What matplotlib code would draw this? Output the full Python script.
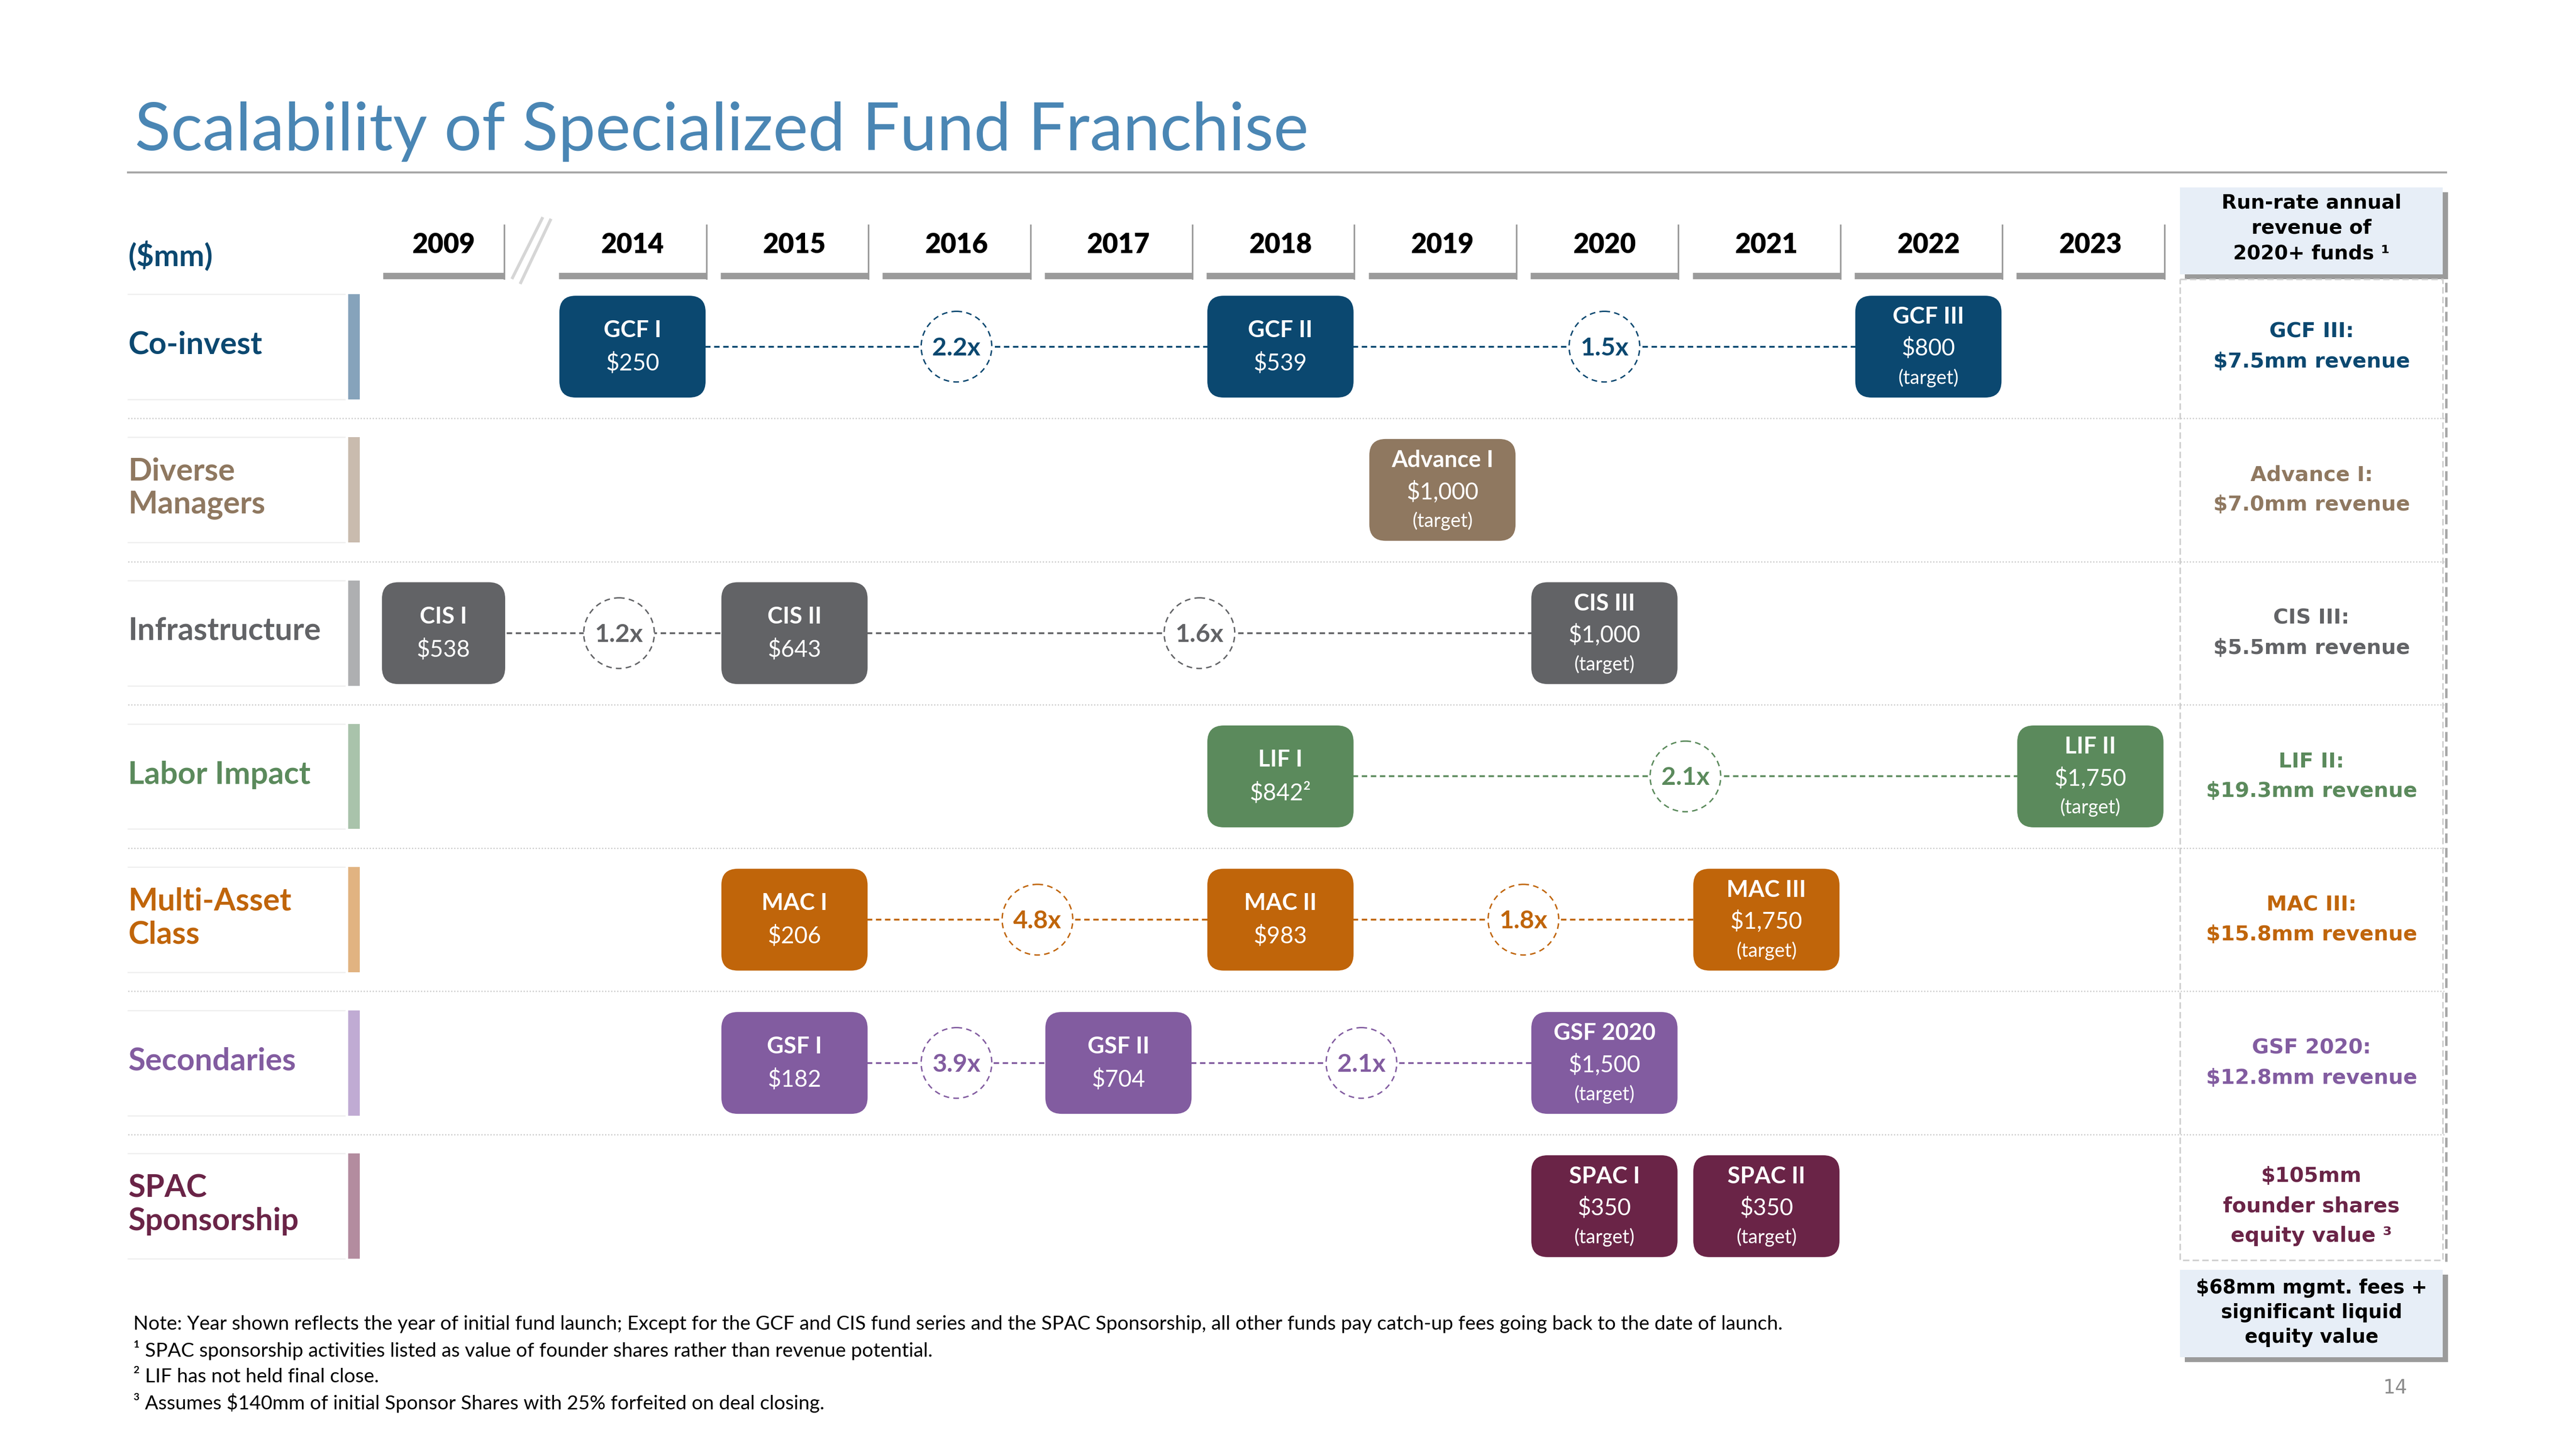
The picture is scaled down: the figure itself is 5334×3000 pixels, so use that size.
import matplotlib
matplotlib.use('Agg')
import matplotlib.pyplot as plt
from matplotlib.patches import FancyBboxPatch, Ellipse, Rectangle

# ---- data ----
years = [2009, 2014, 2015, 2016, 2017, 2018, 2019, 2020, 2021, 2022, 2023]
categories = ['Co-invest', 'Diverse\nManagers', 'Infrastructure', 'Labor Impact',
              'Multi-Asset\nClass', 'Secondaries', 'SPAC\nSponsorship']

fund_row = [0, 0, 0, 1, 2, 2, 2, 3, 3, 4, 4, 4, 5, 5, 5, 6, 6]
fund_year = [2014, 2018, 2022, 2019, 2009, 2015, 2020, 2018, 2023,
             2015, 2018, 2021, 2015, 2017, 2020, 2020, 2021]
fund_name = ['GCF I', 'GCF II', 'GCF III', 'Advance I', 'CIS I', 'CIS II', 'CIS III',
             'LIF I', 'LIF II', 'MAC I', 'MAC II', 'MAC III', 'GSF I', 'GSF II',
             'GSF 2020', 'SPAC I', 'SPAC II']
fund_size = [250, 539, 800, 1000, 538, 643, 1000, 842, 1750,
             206, 983, 1750, 182, 704, 1500, 350, 350]
fund_target = [False, False, True, True, False, False, True, False, True,
               False, False, True, False, False, True, True, True]
fund_note = ['', '', '', '', '', '', '', '²', '', '', '', '', '', '', '', '', '']

mult_row = [0, 0, 2, 2, 3, 4, 4, 5, 5]
mult_from = [2014, 2018, 2009, 2015, 2018, 2015, 2018, 2015, 2017]
mult_to = [2018, 2022, 2015, 2020, 2023, 2018, 2021, 2017, 2020]
mult_label = ['2.2x', '1.5x', '1.2x', '1.6x', '2.1x', '4.8x', '1.8x', '3.9x', '2.1x']

revenue_text = ['GCF III:\n$7.5mm revenue', 'Advance I:\n$7.0mm revenue',
                'CIS III:\n$5.5mm revenue', 'LIF II:\n$19.3mm revenue',
                'MAC III:\n$15.8mm revenue', 'GSF 2020:\n$12.8mm revenue',
                '$105mm\nfounder shares\nequity value ³']

footnotes = [
    'Note: Year shown reflects the year of initial fund launch; Except for the GCF and CIS fund series and the SPAC Sponsorship, all other funds pay catch-up fees going back to the date of launch.',
    '¹ SPAC sponsorship activities listed as value of founder shares rather than revenue potential.',
    '² LIF has not held final close.',
    '³ Assumes $140mm of initial Sponsor Shares with 25% forfeited on deal closing.',
]

# ---- style ----
dark = ['#0B4870', '#8F7860', '#626366', '#5B8A5C', '#C0650A', '#825CA0', '#6A2447']
light = ['#86A3BB', '#C9BBAE', '#AEAFB1', '#A9C3AB', '#E1B381', '#C0ABD3', '#B38C9F']
FONT = 'Lato'
PANEL_FONT = 'DejaVu Sans'

W, H = 1568, 882


def col_x(year):
    i = years.index(year)
    return 270 if i == 0 else 385 + 98.6 * (i - 1)


def row_y(r):
    return 211 + 87.2 * r


fig = plt.figure(figsize=(5334 / 300, 3000 / 300), dpi=300)
ax = fig.add_axes([0, 0, 1, 1])
ax.set_xlim(0, W)
ax.set_ylim(H, 0)
ax.axis('off')

# title
ax.text(82, 80, 'Scalability of Specialized Fund Franchise', fontsize=33, family=FONT,
        color='#4A86B4', va='center', ha='left')
ax.plot([78, 1489], [105, 105], color='#A6A6A6', lw=1.0)

# year header
ax.text(78, 156, '($mm)', fontsize=15, family=FONT, weight='bold', color=dark[0], va='center')
for y in years:
    cx = col_x(y)
    half = 37 if y == 2009 else 45
    ax.text(cx, 149, str(y), fontsize=13.5, family=FONT, weight='heavy', color='black',
            ha='center', va='center')
    ax.plot([cx - half, cx + half], [168, 168], color='#9B9B9B', lw=3.2, solid_capstyle='butt')
    ax.plot([cx + half, cx + half], [137, 169.5], color='#9B9B9B', lw=0.8)
# axis break
ax.plot([335, 317], [134, 172], color='#D6D6D6', lw=1.5)
ax.plot([330, 312], [133, 169], color='#D6D6D6', lw=1.5)

# rows
for r, cat in enumerate(categories):
    cy = row_y(r)
    ax.text(78, cy - 1, cat, fontsize=15.5, family=FONT, weight='bold', color=dark[r],
            ha='left', va='center', linespacing=1.2)
    ax.plot([78, 210], [cy - 32, cy - 32], color='#EEEEEE', lw=0.6)
    ax.plot([78, 210], [cy + 32, cy + 32], color='#EEEEEE', lw=0.6)
    ax.add_patch(Rectangle((212, cy - 32), 7, 64, facecolor=light[r], edgecolor='none'))
    if r < len(categories) - 1:
        sy = cy + 43.6
        ax.plot([78, 1489], [sy, sy], color='#C8C8C8', lw=0.6, ls=(0, (1, 1.5)))

# connectors and multiples
for r, a, b, lab in zip(mult_row, mult_from, mult_to, mult_label):
    cy = row_y(r)
    x0, x1 = col_x(a), col_x(b)
    ax.plot([x0, x1], [cy, cy], color=dark[r], lw=0.9, ls=(0, (3, 2)), zorder=1)
    mx = (x0 + x1) / 2
    ax.add_patch(Ellipse((mx, cy), 43, 43, facecolor='white', edgecolor=dark[r],
                         lw=0.7, ls=(0, (4, 3)), zorder=2))
    ax.text(mx, cy + 1, lab, fontsize=12.5, family=FONT, weight='bold', color=dark[r],
            ha='center', va='center', zorder=3)

# fund boxes
for r, y, name, size, tgt, note in zip(fund_row, fund_year, fund_name, fund_size,
                                       fund_target, fund_note):
    cx, cy = col_x(y), row_y(r)
    bw = 75 if y == 2009 else 89
    ax.add_patch(FancyBboxPatch((cx - bw / 2, cy - 31), bw, 62,
                                boxstyle='round,pad=0,rounding_size=10',
                                facecolor=dark[r], edgecolor='none', zorder=4))
    label = f'${size:,}{note}'
    if tgt:
        ax.text(cx, cy - 18, name, fontsize=11.5, family=FONT, weight='bold', color='white',
                ha='center', va='center', zorder=5)
        ax.text(cx, cy + 1, label, fontsize=11.5, family=FONT, color='white',
                ha='center', va='center', zorder=5)
        ax.text(cx, cy + 19, '(target)', fontsize=9.5, family=FONT, color='white',
                ha='center', va='center', zorder=5)
    else:
        ax.text(cx, cy - 10, name, fontsize=11.5, family=FONT, weight='bold', color='white',
                ha='center', va='center', zorder=5)
        ax.text(cx, cy + 10, label, fontsize=11.5, family=FONT, color='white',
                ha='center', va='center', zorder=5)

# right panel
px0, px1 = 1327, 1487
ax.add_patch(Rectangle((px0 + 3, 117), px1 - px0, 53, facecolor='#9B9B9B', edgecolor='none'))
ax.add_patch(Rectangle((px0, 114), px1 - px0, 53, facecolor='#E7EEF7', edgecolor='none'))
ax.text((px0 + px1) / 2, 139, 'Run-rate annual\nrevenue of\n2020+ funds ¹', fontsize=9.8,
        family=PANEL_FONT, weight='bold', color='black', ha='center', va='center',
        linespacing=1.4)
ax.plot([px1 + 2, px1 + 2], [172, 768], color='#A8A8A8', lw=1.2, ls=(0, (4, 2)))
ax.add_patch(Rectangle((px0, 170), px1 - px0, 597, facecolor='none', edgecolor='#D0D0D0',
                       lw=0.8, ls=(0, (4, 2))))
for r, txt in enumerate(revenue_text):
    ax.text((px0 + px1) / 2, row_y(r), txt, fontsize=10.3, family=PANEL_FONT,
            weight='bold', color=dark[r], ha='center', va='center', linespacing=1.6)
ax.add_patch(Rectangle((px0 + 3, 776), px1 - px0, 53, facecolor='#9B9B9B', edgecolor='none'))
ax.add_patch(Rectangle((px0, 773), px1 - px0, 53, facecolor='#E7EEF7', edgecolor='none'))
ax.text((px0 + px1) / 2, 799, '$68mm mgmt. fees +\nsignificant liquid\nequity value',
        fontsize=9.5, family=PANEL_FONT, weight='bold', color='black', ha='center',
        va='center', linespacing=1.35)

# footnotes
for i, t in enumerate(footnotes):
    ax.text(81, 806 + 16 * i, t, fontsize=9.8, family=FONT, color='black', ha='left',
            va='center')
ax.text(1458, 845, '14', fontsize=9.5, family=PANEL_FONT, color='#8C8C8C', ha='center',
        va='center')

fig.savefig('out.png', dpi=300, facecolor='white')
